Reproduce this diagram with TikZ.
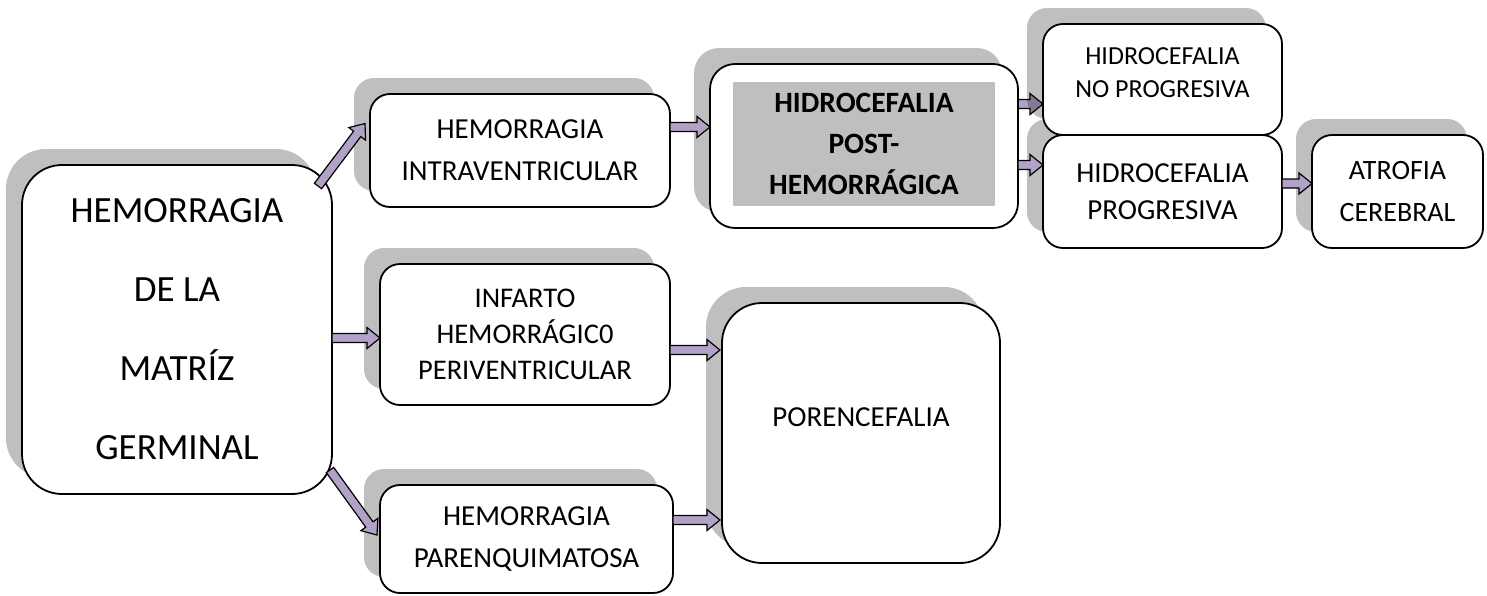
\documentclass[tikz,border=0pt]{standalone}
\usepackage{fontspec}
\setmainfont{Carlito}
\usetikzlibrary{calc,shadows,backgrounds}
\definecolor{lav}{RGB}{179,162,199}
\definecolor{innergray}{RGB}{191,191,191}
\tikzset{
  box/.style={draw=black, line width=1.8pt, fill=white, rounded corners=#1,
    align=center, inner sep=0pt, outer sep=0pt,
    drop shadow={shadow xshift=-16pt, shadow yshift=16pt, opacity=0.25, fill=black}},
  box/.default=20pt,
  barrow/.style={draw=black, line width=1.2pt, fill=lav, line join=miter,
    to path={let \p1=(\tikztostart), \p2=(\tikztotarget),
      \n1={veclen(\x2-\x1,\y2-\y1)},
      \p3=({(\x2-\x1)/\n1},{(\y2-\y1)/\n1}) in
      ({\x1-4.5*\y3},{\y1+4.5*\x3})
      -- ({\x2-13*\x3-4.5*\y3},{\y2-13*\y3+4.5*\x3})
      -- ({\x2-13*\x3-10.5*\y3},{\y2-13*\y3+10.5*\x3})
      -- (\p2)
      -- ({\x2-13*\x3+10.5*\y3},{\y2-13*\y3-10.5*\x3})
      -- ({\x2-13*\x3+4.5*\y3},{\y2-13*\y3-4.5*\x3})
      -- ({\x1+4.5*\y3},{\y1-4.5*\x3}) -- cycle}}
}
\begin{document}
\begin{tikzpicture}[x=1pt,y=-1pt]
\useasboundingbox (0,0) rectangle (1487,595);
% main
\node[box=40pt, minimum width=310pt, minimum height=329pt,
  font=\fontsize{37pt}{79pt}\selectfont] (m) at (177,329.5)
  {HEMORRAGIA\\DE LA\\MATRÍZ\\GERMINAL};
\node[box, minimum width=300pt, minimum height=113pt,
  font=\fontsize{29pt}{42pt}\selectfont] (iv) at (520,150.5)
  {HEMORRAGIA\\INTRAVENTRICULAR};
\node[box=25pt, minimum width=308pt, minimum height=164pt] (hph) at (864,146) {};
\node[fill=innergray, minimum width=262pt, minimum height=124pt, inner sep=0pt,
  align=center, font=\fontsize{29.5pt}{41pt}\selectfont\bfseries] (hpht) at (864,144)
  {HIDROCEFALIA\\POST-\\HEMORRÁGICA};
\node[box, minimum width=290pt, minimum height=141pt,
  font=\fontsize{28.5pt}{36pt}\selectfont] (inf) at (525,334.5)
  {INFARTO\\HEMORRÁGIC0\\PERIVENTRICULAR};
\node[box, minimum width=293pt, minimum height=108pt,
  font=\fontsize{29pt}{42pt}\selectfont] (pq) at (526.5,539)
  {HEMORRAGIA\\PARENQUIMATOSA};
\node[box=40pt, minimum width=278pt, minimum height=260pt, text depth=32pt,
  font=\fontsize{29pt}{35pt}\selectfont] (po) at (861,433)
  {PORENCEFALIA};
\node[box, minimum width=239pt, minimum height=113pt,
  font=\fontsize{29pt}{37pt}\selectfont] (pg) at (1162.5,191.5)
  {HIDROCEFALIA\\PROGRESIVA};
\node[box, minimum width=171pt, minimum height=113pt,
  font=\fontsize{28pt}{42pt}\selectfont] (at) at (1397.5,191.5)
  {ATROFIA\\CEREBRAL};
\node[box, minimum width=239pt, minimum height=111pt, text depth=14pt,
  font=\fontsize{26pt}{33pt}\selectfont] (np) at (1162.5,79.5)
  {HIDROCEFALIA\\NO PROGRESIVA};
% arrows
\draw[barrow] ($(m.north east)+(-14,21)$) to ($(iv.west)+(-5,-27)$);
\draw[barrow] ($(m.east)+(0,8.5)$) to ($(inf.west)+(0,3.5)$);
\draw[barrow] ($(m.south east)+(-2,-24)$) to ($(pq.west)+(-3,-4)$);
\draw[barrow] ($(iv.east)+(0,-23.5)$) to ($(hph.west)+(0,-19)$);
\draw[barrow] ($(inf.east)+(0,15.5)$) to ($(po.west)+(-2,-83)$);
\draw[barrow] ($(pq.east)+(0,-19)$) to ($(po.west)+(-2,87)$);
\draw[barrow] ($(hph.east)+(0,19)$) to ($(pg.west)+(0,-26.5)$);
\draw[barrow] ($(pg.east)+(0,-8)$) to ($(at.west)+(0,-8)$);
\begin{scope}[on background layer]
\draw[barrow] ($(hph.east)+(0,-42)$) to ($(np.west)+(0,24.5)$);
\end{scope}
\end{tikzpicture}
\end{document}
